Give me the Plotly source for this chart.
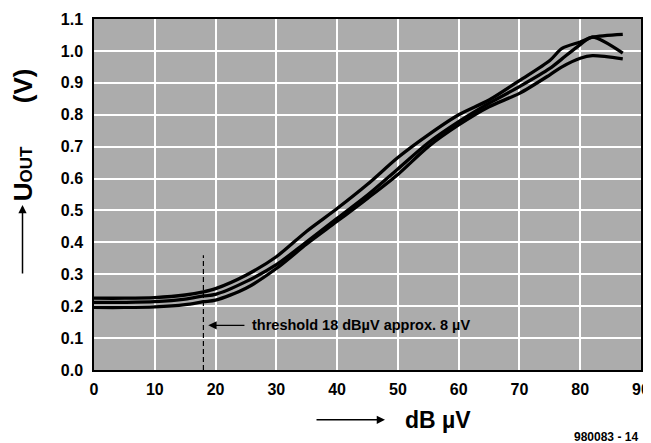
import plotly.graph_objects as go

# ---- data ----
x_db = [0, 5, 10, 15, 18, 20, 25, 30, 35, 40, 45, 50, 55, 60, 65, 70, 75, 77, 80, 82, 87]
curve_a = [0.225, 0.225, 0.227, 0.235, 0.245, 0.255, 0.297, 0.355, 0.435, 0.506, 0.582, 0.666, 0.737, 0.80, 0.846, 0.907, 0.97, 1.008, 1.028, 1.043, 1.052]
curve_b = [0.212, 0.212, 0.214, 0.222, 0.232, 0.237, 0.277, 0.330, 0.402, 0.475, 0.548, 0.630, 0.712, 0.778, 0.836, 0.888, 0.945, 0.975, 1.02, 1.043, 0.993]
curve_c = [0.196, 0.196, 0.198, 0.205, 0.214, 0.219, 0.256, 0.318, 0.395, 0.466, 0.538, 0.613, 0.700, 0.768, 0.825, 0.867, 0.925, 0.950, 0.977, 0.985, 0.975]

threshold_x = [18, 18]
threshold_y = [0.0, 0.36]
arrow_y = 0.14
arrow_tail_x = 25
label_text = "threshold 18 dBµV approx. 8 µV"

x_ticks = [0, 10, 20, 30, 40, 50, 60, 70, 80, 90]
y_ticks = [0.0, 0.1, 0.2, 0.3, 0.4, 0.5, 0.6, 0.7, 0.8, 0.9, 1.0, 1.1]
y_tick_text = [f"{v:.1f}" for v in y_ticks]

FONT = "Liberation Sans, Arial, sans-serif"

fig = go.Figure()
for ys in (curve_a, curve_b, curve_c):
    fig.add_trace(go.Scatter(x=x_db, y=ys, mode="lines",
                             line=dict(color="black", width=3.3, shape="spline", smoothing=0.8),
                             showlegend=False, hoverinfo="skip"))

fig.add_trace(go.Scatter(x=threshold_x, y=threshold_y, mode="lines",
                         line=dict(color="black", width=1.2, dash="5px,3px"),
                         showlegend=False, hoverinfo="skip"))

fig.add_annotation(x=threshold_x[0] + 0.8, y=arrow_y, ax=arrow_tail_x, ay=arrow_y,
                   xref="x", yref="y", axref="x", ayref="y",
                   showarrow=True, arrowhead=2, arrowsize=1.2, arrowwidth=1.4,
                   arrowcolor="black", text="")
fig.add_annotation(x=arrow_tail_x + 0.7, y=arrow_y, xref="x", yref="y",
                   xanchor="left", yanchor="middle", showarrow=False,
                   text=label_text,
                   font=dict(family=FONT, size=14.5, color="black", weight="bold"))

# y-axis title with arrow
fig.add_annotation(xref="paper", yref="paper", x=-0.131, y=0.67,
                   xanchor="center", yanchor="middle", textangle=-90, showarrow=False,
                   text="U<span style='font-size:17px'>OUT</span>&nbsp;&nbsp;&nbsp;&nbsp;&nbsp;&nbsp;(V)",
                   font=dict(family=FONT, size=26, color="black", weight="bold"))
fig.add_annotation(xref="paper", yref="paper", x=-0.1307, y=0.47,
                   ax=0, ay=70,
                   showarrow=True, arrowhead=2, arrowsize=1.1, arrowwidth=1.5,
                   arrowcolor="black", text="")

# x-axis title with arrow
fig.add_annotation(xref="paper", yref="paper", x=0.532, y=-0.142,
                   ax=-70, ay=0,
                   showarrow=True, arrowhead=2, arrowsize=1.1, arrowwidth=1.5,
                   arrowcolor="black", text="")
fig.add_annotation(xref="paper", yref="paper", x=0.629, y=-0.142,
                   xanchor="center", yanchor="middle", showarrow=False,
                   text="dB µV",
                   font=dict(family=FONT, size=23, color="black", weight="bold"))
fig.add_annotation(xref="paper", yref="paper", x=0.998, y=-0.19,
                   xanchor="right", yanchor="middle", showarrow=False,
                   text="980083 - 14",
                   font=dict(family=FONT, size=12, color="black", weight="bold"))

# page body has an 8px default margin, so the figure is sized/offset to compensate
fig.update_layout(
    width=643, height=435,
    margin=dict(l=86, r=10, t=11, b=73, autoexpand=False),
    paper_bgcolor="white", plot_bgcolor="#acacac",
    xaxis=dict(range=[0, 90], tickvals=x_ticks, showgrid=True, gridcolor="white", gridwidth=2,
               showline=True, linecolor="black", linewidth=1.5, mirror=True, ticks="",
               zeroline=False, ticklabelstandoff=4, automargin=False,
               tickfont=dict(family=FONT, size=16, color="black", weight="bold")),
    yaxis=dict(range=[0, 1.1], tickvals=y_ticks, ticktext=y_tick_text, showgrid=True,
               gridcolor="white", gridwidth=2,
               showline=True, linecolor="black", linewidth=1.5, mirror=True, ticks="",
               zeroline=False, ticklabelstandoff=6, automargin=False,
               tickfont=dict(family=FONT, size=16, color="black", weight="bold")),
)

fig.write_html("out.html")
